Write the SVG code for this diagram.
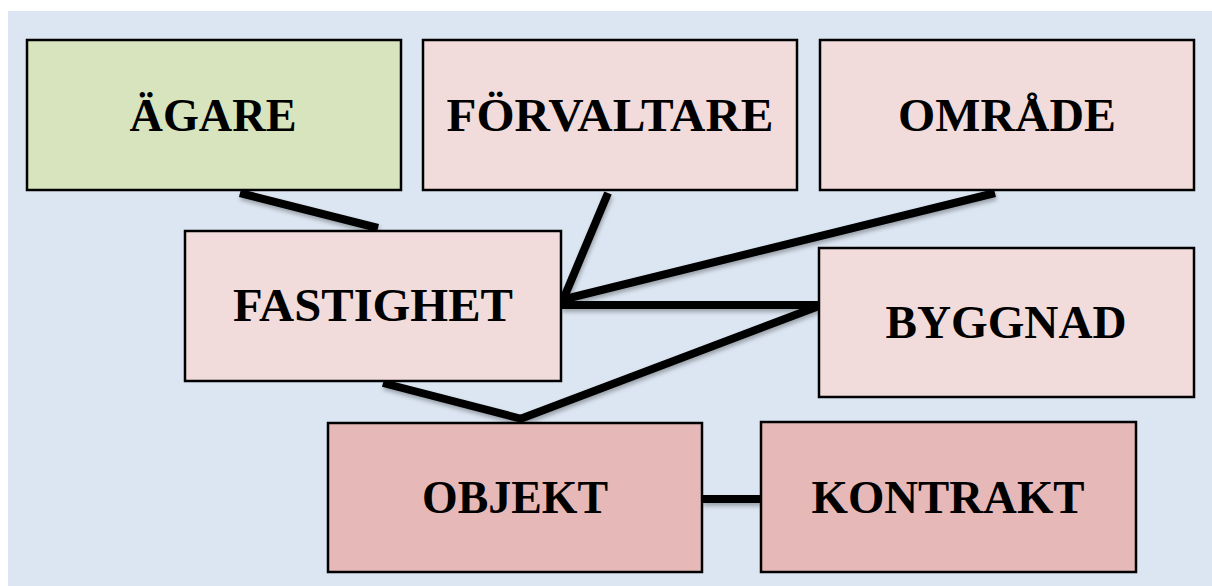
<svg xmlns="http://www.w3.org/2000/svg" width="1212" height="586" viewBox="0 0 1212 586">
<style>
.box{stroke:#000;stroke-width:2.5}
.green{fill:#D7E4BD}
.light{fill:#F2DCDB}
.dark{fill:#E6B9B8}
.lbl{font-family:"Liberation Serif","Times New Roman",serif;font-weight:bold;font-size:46px;fill:#000;text-anchor:middle}
.conn line{stroke:#000;stroke-width:8;stroke-linecap:butt}
</style>
<defs>
<filter id="sh" x="-10%" y="-10%" width="120%" height="130%">
<feDropShadow dx="1" dy="3" stdDeviation="2" flood-color="#000" flood-opacity="0.3"/>
</filter>
</defs>
<rect x="0" y="0" width="1212" height="586" fill="#fff"/>
<rect x="8" y="11" width="1204" height="575" fill="#DCE6F2"/>
<g id="connectors" class="conn" filter="url(#sh)">
<line x1="240" y1="193" x2="378" y2="228"/>
<line x1="608" y1="193" x2="563" y2="300"/>
<line x1="995" y1="193" x2="561" y2="300"/>
<line x1="561" y1="305" x2="819" y2="305"/>
<line x1="819" y1="306" x2="520" y2="419"/>
<line x1="383" y1="383" x2="522" y2="419"/>
<line x1="702" y1="499" x2="761" y2="499"/>
</g>
<g id="agare"><rect class="box green" x="27" y="40" width="374" height="150"/><text class="lbl" x="213" y="131" textLength="167" lengthAdjust="spacingAndGlyphs">ÄGARE</text></g>
<g id="forvaltare"><rect class="box light" x="423" y="40" width="374" height="150"/><text class="lbl" x="610" y="131" textLength="327" lengthAdjust="spacingAndGlyphs">FÖRVALTARE</text></g>
<g id="omrade"><rect class="box light" x="820" y="40" width="374" height="150"/><text class="lbl" x="1007" y="131" textLength="218" lengthAdjust="spacingAndGlyphs">OMRÅDE</text></g>
<g id="fastighet"><rect class="box light" x="185" y="231" width="376" height="150"/><text class="lbl" x="373" y="321" textLength="280" lengthAdjust="spacingAndGlyphs">FASTIGHET</text></g>
<g id="byggnad"><rect class="box light" x="819" y="248" width="375" height="149"/><text class="lbl" x="1006" y="338" textLength="241" lengthAdjust="spacingAndGlyphs">BYGGNAD</text></g>
<g id="objekt"><rect class="box dark" x="328" y="423" width="374" height="149"/><text class="lbl" x="515" y="513" textLength="186" lengthAdjust="spacingAndGlyphs">OBJEKT</text></g>
<g id="kontrakt"><rect class="box dark" x="761" y="422" width="375" height="150"/><text class="lbl" x="948" y="513" textLength="273" lengthAdjust="spacingAndGlyphs">KONTRAKT</text></g>
</svg>
